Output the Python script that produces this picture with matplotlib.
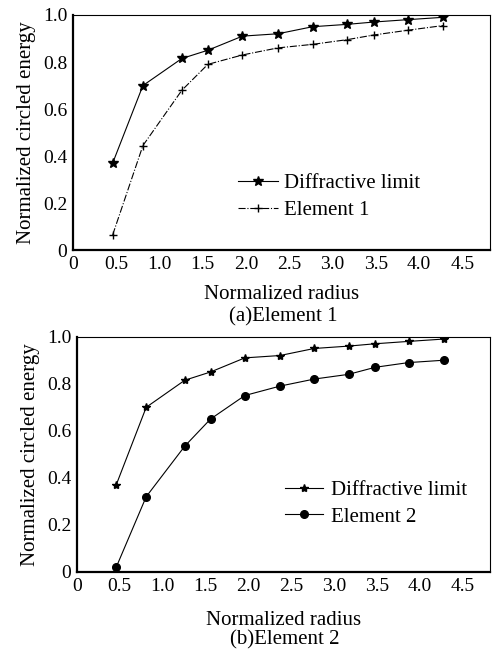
import matplotlib
matplotlib.use('Agg')
import matplotlib.pyplot as plt

radius = [0.46, 0.81, 1.26, 1.56, 1.96, 2.37, 2.77, 3.17, 3.48, 3.87, 4.28]
diffractive = [0.37, 0.70, 0.815, 0.85, 0.91, 0.92, 0.95, 0.96, 0.97, 0.98, 0.99]
element1 = [0.065, 0.445, 0.68, 0.79, 0.83, 0.86, 0.875, 0.895, 0.915, 0.935, 0.955]
element2 = [0.02, 0.32, 0.535, 0.65, 0.75, 0.79, 0.82, 0.84, 0.87, 0.89, 0.90]

xticks = [0, 0.5, 1.0, 1.5, 2.0, 2.5, 3.0, 3.5, 4.0, 4.5]
xticklabels = ['0', '0.5', '1.0', '1.5', '2.0', '2.5', '3.0', '3.5', '4.0', '4.5']
yticks = [0, 0.2, 0.4, 0.6, 0.8, 1.0]
yticklabels = ['0', '0.2', '0.4', '0.6', '0.8', '1.0']

plt.rcParams['font.family'] = ['Liberation Serif', 'DejaVu Serif']
plt.rcParams['font.size'] = 15

fig = plt.figure(figsize=(4.92, 6.5), dpi=100)
ax1 = fig.add_axes([0.148, 0.615, 0.848, 0.362])
ax2 = fig.add_axes([0.156, 0.120, 0.840, 0.362])


def style_axes(ax, pad):
    ax.set_xlim(0, 4.82)
    ax.set_ylim(0, 1.0)
    ax.set_xticks(xticks)
    ax.set_xticklabels(xticklabels)
    ax.set_yticks(yticks)
    ax.set_yticklabels(yticklabels)
    ax.tick_params(length=0, pad=4, labelsize=14)
    for side in ['left', 'bottom']:
        ax.spines[side].set_linewidth(1.6)
    for side in ['top', 'right']:
        ax.spines[side].set_linewidth(0.8)
    ax.set_xlabel('Normalized radius', fontsize=15, labelpad=pad)
    ax.set_ylabel('Normalized circled energy', fontsize=15, labelpad=5)


ax1.plot(radius, diffractive, color='black', lw=0.8, marker='*', ms=7,
         label='Diffractive limit')
ax1.plot(radius, element1, color='black', lw=0.8, ls='-.', marker='+', ms=6,
         mew=1.0, label='Element 1')
style_axes(ax1, 9)
ax1.legend(loc='upper left', bbox_to_anchor=(0.396, 0.325), frameon=False,
           fontsize=15, handlelength=1.9, handletextpad=0.3, labelspacing=0.35,
           borderpad=0, borderaxespad=0)
fig.text(0.575, 0.512, '(a)Element 1', ha='center', va='center', fontsize=15)

ax2.plot(radius, diffractive, color='black', lw=0.8, marker='*', ms=6,
         label='Diffractive limit')
ax2.plot(radius, element2, color='black', lw=0.8, marker='o', ms=5.5,
         label='Element 2')
style_axes(ax2, 12)
ax2.legend(loc='upper left', bbox_to_anchor=(0.504, 0.39), frameon=False,
           fontsize=15, handlelength=1.8, handletextpad=0.4, labelspacing=0.35,
           borderpad=0, borderaxespad=0)
fig.text(0.578, 0.016, '(b)Element 2', ha='center', va='center', fontsize=15)

fig.savefig('out.png', dpi=100)
